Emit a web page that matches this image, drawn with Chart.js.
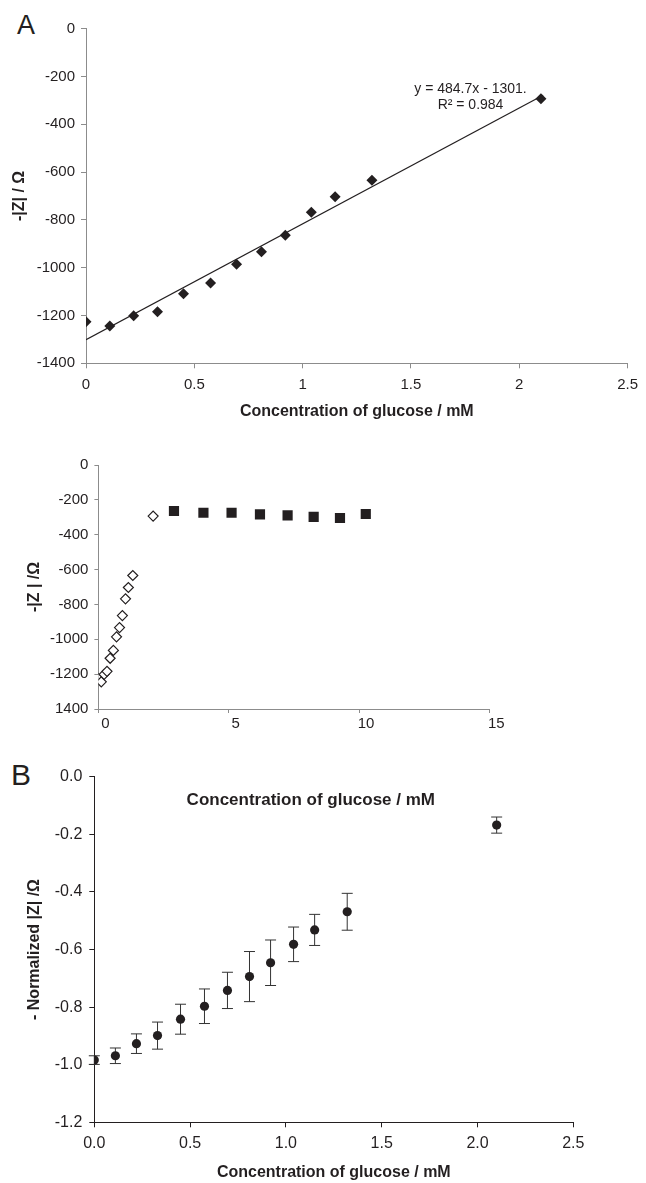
<!DOCTYPE html>
<html>
<head>
<meta charset="utf-8">
<script src="https://cdn.jsdelivr.net/npm/chart.js@4.4.1/dist/chart.umd.min.js"></script>
<style>
    body { margin: 0; background: #fff; }
    .panel { position: absolute; left: 0; }
    .letter {
        position: absolute;
        font-family: "Liberation Sans", Arial, sans-serif;
        color: #231f20;
        line-height: 1;
    }
</style>
</head>
<body>
<div class="letter" style="left:17px; top:12px; font-size:27px;">A</div>
<div class="letter" style="left:11px; top:760px; font-size:30px;">B</div>
<canvas id="chartA" class="panel" style="top:0" width="646" height="430"></canvas>
<canvas id="chartFull" class="panel" style="top:440px" width="646" height="300"></canvas>
<canvas id="chartB" class="panel" style="top:740px" width="646" height="443"></canvas>
<script>
// glucose concentrations (mM) used in the linear range
const glucose = [0, 0.11, 0.22, 0.33, 0.45, 0.575, 0.695, 0.81, 0.92, 1.04, 1.15, 1.32, 2.1];
// -|Z| (ohm) for panel A and the open diamonds of the full-range plot
const impedance = [-1226, -1244, -1201, -1184, -1109, -1064, -986, -933, -864, -768, -703, -634, -293];

// linear fit shown in panel A
const trendSlope = 484.7;
const trendIntercept = -1301;
const trendRange = [0, 2.11];

// saturated region (filled squares)
const satGlucose = [2.9, 4.03, 5.11, 6.2, 7.26, 8.26, 9.27, 10.26];
const satImpedance = [-264, -274, -274, -283, -289, -298, -304, -281];

// panel B: normalized |Z| with error bars
const normZ = [-0.984, -0.969, -0.927, -0.899, -0.842, -0.797, -0.742, -0.694, -0.646, -0.582, -0.532, -0.469, -0.168];
const normErr = [0.015, 0.027, 0.034, 0.047, 0.052, 0.06, 0.063, 0.087, 0.079, 0.06, 0.054, 0.064, 0.028];

const FONT = '"Liberation Sans", Arial, sans-serif';
const INK = '#231f20';
const X_TITLE = 'Concentration of glucose / mM';

Chart.defaults.font.family = FONT;
Chart.defaults.color = INK;

const toPoints = (xs, ys) => xs.map((x, i) => ({ x: x, y: ys[i] }));

// text placed at data coordinates
const notesPlugin = {
    id: 'notes',
    afterDraw(chart, args, opts) {
        const ctx = chart.ctx;
        (opts.items || []).forEach(item => {
            ctx.save();
            ctx.font = item.font;
            ctx.fillStyle = INK;
            ctx.textAlign = 'center';
            ctx.textBaseline = 'middle';
            ctx.fillText(item.text, chart.scales.x.getPixelForValue(item.x), chart.scales.y.getPixelForValue(item.y));
            ctx.restore();
        });
    }
};

// vertical error bars for dataset 0
const errorBarPlugin = {
    id: 'errorBars',
    beforeDatasetsDraw(chart, args, opts) {
        if (!opts.errors) return;
        const ctx = chart.ctx;
        const { x: xs, y: ys } = chart.scales;
        const cap = opts.cap || 5;
        ctx.save();
        ctx.strokeStyle = opts.color || '#333';
        ctx.lineWidth = 1;
        chart.data.datasets[0].data.forEach((p, i) => {
            const px = xs.getPixelForValue(p.x);
            const top = ys.getPixelForValue(p.y + opts.errors[i]);
            const bot = ys.getPixelForValue(p.y - opts.errors[i]);
            ctx.beginPath();
            ctx.moveTo(px, top); ctx.lineTo(px, bot);
            ctx.moveTo(px - cap, top); ctx.lineTo(px + cap, top);
            ctx.moveTo(px - cap, bot); ctx.lineTo(px + cap, bot);
            ctx.stroke();
        });
        ctx.restore();
    }
};

function axis(cfg) {
    return {
        type: 'linear',
        min: cfg.min,
        max: cfg.max,
        border: { color: cfg.lineColor, width: 1 },
        grid: { drawOnChartArea: false, tickLength: cfg.tickLength, color: cfg.lineColor },
        ticks: {
            stepSize: cfg.step,
            autoSkip: false,
            maxRotation: 0,
            padding: cfg.pad,
            labelOffset: cfg.labelOffset || 0,
            font: { size: cfg.fontSize },
            color: INK,
            callback: cfg.format
        },
        title: cfg.title ? {
            display: true,
            text: cfg.title,
            color: INK,
            font: { size: cfg.titleSize || 16, weight: 'bold' },
            padding: cfg.titlePad
        } : { display: false },
        afterFit: scale => {
            if (cfg.width) scale.width = cfg.width;
            if (cfg.height) scale.height = cfg.height;
        }
    };
}

function baseOptions(padding, scales, plugins) {
    return {
        responsive: false,
        animation: false,
        layout: { padding: padding },
        scales: scales,
        plugins: Object.assign({ legend: { display: false }, tooltip: { enabled: false } }, plugins)
    };
}

// Panel A: linear range with fit
new Chart(document.getElementById('chartA'), {
    type: 'scatter',
    data: {
        datasets: [
            {
                data: toPoints(glucose, impedance),
                pointStyle: 'rectRot',
                pointRadius: 5.5,
                backgroundColor: INK,
                borderColor: INK,
                borderWidth: 0
            },
            {
                data: trendRange.map(x => ({ x: x, y: trendSlope * x + trendIntercept })),
                showLine: true,
                pointRadius: 0,
                borderColor: INK,
                borderWidth: 1.2
            }
        ]
    },
    options: baseOptions({ top: 28.7, right: 15, left: 0, bottom: 0 }, {
        x: axis({ min: 0, max: 2.5, step: 0.5, lineColor: '#8c8c8c', tickLength: 5, pad: 8, fontSize: 15,
                  format: v => String(v), title: X_TITLE, titlePad: { top: 0, bottom: 8.4 }, height: 66.7 }),
        y: axis({ min: -1400, max: 0, step: 200, lineColor: '#8c8c8c', tickLength: 5, pad: 6, fontSize: 15,
                  format: v => String(v), title: '-|Z| / Ω', titlePad: { top: 9.9, bottom: 0 }, width: 86 })
    }, {
        notes: { items: [
            { text: 'y = 484.7x - 1301.', x: 1.775, y: -253, font: '14px ' + FONT },
            { text: 'R² = 0.984', x: 1.775, y: -320, font: '14px ' + FONT }
        ] }
    }),
    plugins: [notesPlugin]
});

// Full range: linear region and saturation
new Chart(document.getElementById('chartFull'), {
    type: 'scatter',
    data: {
        datasets: [
            {
                data: toPoints(glucose, impedance),
                pointStyle: 'rectRot',
                pointRadius: 5,
                backgroundColor: '#fff',
                borderColor: INK,
                borderWidth: 1.2
            },
            {
                data: toPoints(satGlucose, satImpedance),
                pointStyle: 'rect',
                pointRadius: 7.2,
                backgroundColor: INK,
                borderColor: INK,
                borderWidth: 0
            }
        ]
    },
    options: baseOptions({ top: 25, right: 156.7, left: 0, bottom: 0 }, {
        x: axis({ min: 0, max: 15, step: 5, lineColor: '#8c8c8c', tickLength: 4, pad: 2, fontSize: 15,
                  labelOffset: 7, format: v => String(v), height: 31 }),
        y: axis({ min: -1400, max: 0, step: 200, lineColor: '#8c8c8c', tickLength: 4, pad: 6, fontSize: 15,
                  format: v => (v === -1400 ? '1400' : String(v)), title: '-|Z | /Ω', titlePad: { top: 25.4, bottom: 0 }, width: 98.4 })
    }, {}),
    plugins: []
});

// Panel B: normalized response with error bars
new Chart(document.getElementById('chartB'), {
    type: 'scatter',
    data: {
        datasets: [
            {
                data: toPoints(glucose, normZ),
                pointStyle: 'circle',
                pointRadius: 4.6,
                backgroundColor: INK,
                borderColor: INK,
                borderWidth: 0
            }
        ]
    },
    options: baseOptions({ top: 36.7, right: 72.7, left: 0, bottom: 0 }, {
        x: axis({ min: 0, max: 2.5, step: 0.5, lineColor: INK, tickLength: 5, pad: 7, fontSize: 16,
                  format: v => v.toFixed(1), title: X_TITLE, titlePad: { top: 0, bottom: 0.4 }, height: 60.7 }),
        y: axis({ min: -1.2, max: 0, step: 0.2, lineColor: INK, tickLength: 5, pad: 7, fontSize: 16,
                  format: v => v.toFixed(1), title: '- Normalized |Z| /Ω', titlePad: { top: 25.4, bottom: 0 }, width: 94.3 })
    }, {
        errorBars: { errors: normErr, cap: 5.5, color: '#333' },
        notes: { items: [
            { text: X_TITLE, x: 1.13, y: -0.081, font: 'bold 17px ' + FONT }
        ] }
    }),
    plugins: [errorBarPlugin, notesPlugin]
});
</script>
</body>
</html>
